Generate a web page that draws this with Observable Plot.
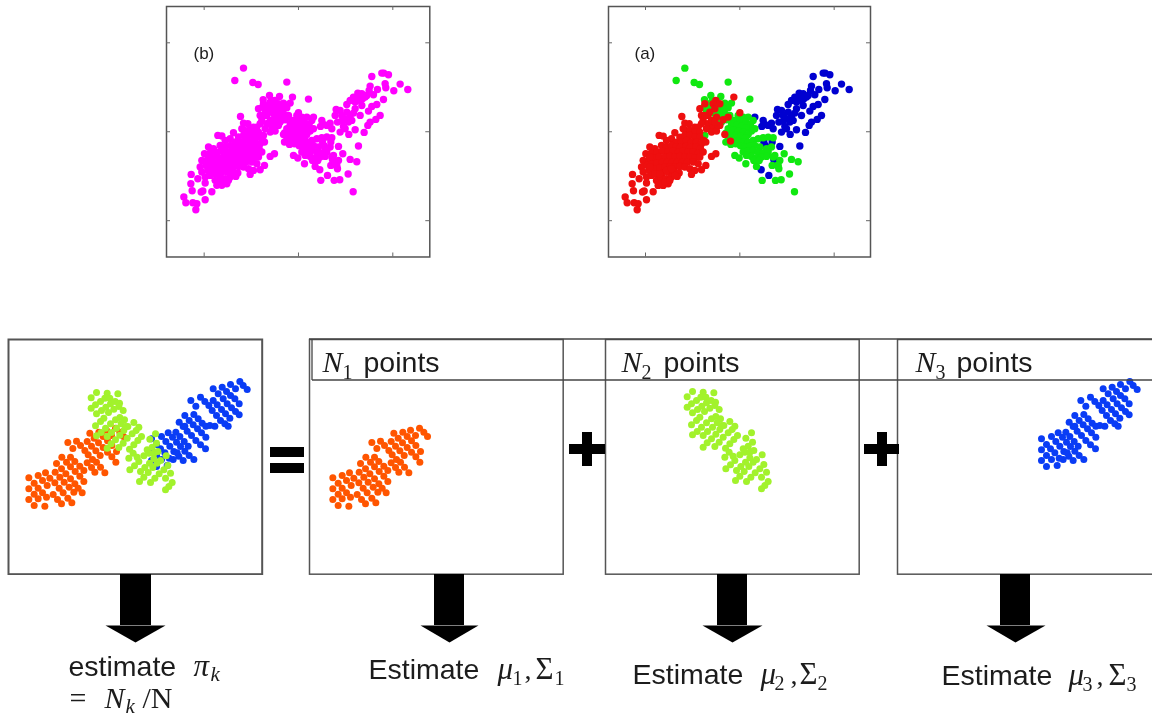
<!DOCTYPE html>
<html><head><meta charset="utf-8">
<script src="https://cdn.jsdelivr.net/npm/d3@7"></script>
<script src="https://cdn.jsdelivr.net/npm/@observablehq/plot@0.6"></script>
<style>html,body{margin:0;padding:0;background:#fff;overflow:hidden}#page{position:relative;width:1152px;height:717px;overflow:hidden;background:#fff}#page svg{position:absolute;max-width:none;filter:blur(0.45px)}</style>
</head><body><div id="page"></div>
<script>
// Upper scatter: unlabelled axes, values read in reading units of the picture
const scatterTicksX=[137,420,703], scatterTicksY=[127,394,661];
const scatterGreen=[[255,203],[229,240],[283,246],[299,252],[385,245],[450,296],[584,574],[487,540],[527,540],[544,538],[569,521],[575,477],[595,484],[553,460],[537,505],[533,495],[517,495],[470,498],[438,490],[405,465],[418,473],
[333,285],[363,288],[314,298],[312,320],[330,320],[320,330],[352,318],[375,308],[395,308],[385,322],[345,340],[360,345],[375,340],[390,345],[400,360],[350,360],[365,365],[380,358],[315,405],[340,300],[355,330],[370,325],[335,305],
[415,345],[430,350],[445,350],[460,360],[405,360],[420,362],[438,365],[452,372],[465,385],[395,372],[410,375],[425,378],[440,382],[455,392],[385,385],[400,388],[415,392],[430,395],[445,402],[378,398],[392,402],[408,405],[422,408],[438,412],[385,418],[400,420],[415,422],[430,425],[378,425],[393,432],[408,430],[422,436],
[445,425],[460,420],[475,415],[490,412],[505,410],[520,412],[435,440],[450,438],[465,435],[480,440],[500,445],[515,440],[430,455],[445,452],[460,450],[475,455],[490,458],[505,455],[440,465],[455,468],[470,472],[485,470],[500,468],[462,480],[478,480],[525,465],[540,480],[520,470],[535,495]];
const scatterBlue=[[640,228],[670,218],[676,218],[690,223],[725,251],[748,267],[706,271],[682,262],[680,250],[657,267],[635,257],[632,270],[610,280],[598,278],[585,290],[575,300],[565,312],[620,290],[605,300],[590,305],[610,315],[625,285],[645,283],[675,297],[655,312],[640,318],[630,332],[605,345],[665,345],[652,357],[635,365],[628,375],[617,396],[600,437],[590,388],[571,402],[580,360],[565,335],[545,330],[533,327],[550,345],[537,365],[555,378],[520,385],[505,375],[490,360],[486,378],[545,395],[560,385],[585,338],[570,365],[550,362],[465,350],[495,372],[515,368],[540,438],[517,425],[492,425],[436,418],[497,436],[522,478],[484,508],[507,525],[600,290],[612,295],[590,325],[575,345],[560,355],[530,345]];
const scatterRed=[[348,300],[402,290],[360,310],[340,310],[300,325],[305,345],[325,345],[345,325],[420,337],[310,360],[325,370],[340,380],[360,375],[320,385],[335,395],[350,392],[375,402],[392,422],[305,370],[370,358],[385,350],[315,310],[330,335],[350,350],[315,345],[335,360],[355,375],[345,365],
[246,348],[255,368],[268,370],[255,388],[250,385],[270,390],[285,380],[295,380],[285,395],[300,395],[178,405],[190,407],[225,397],[240,410],[255,405],[270,405],[285,410],[300,410],[312,420],[215,415],[200,420],[230,425],[245,425],[260,420],[275,425],[290,425],[305,430],[318,425],
[150,440],[165,445],[185,435],[200,440],[215,435],[228,440],[242,440],[258,438],[272,440],[288,440],[302,445],
[138,460],[155,458],[172,455],[188,452],[205,455],[220,452],[236,455],[250,452],[265,455],[280,455],[296,458],[310,455],
[130,480],[147,478],[162,472],[178,470],[195,470],[210,468],[225,470],[240,468],[255,470],[270,470],[285,472],[300,470],[335,468],[348,460],
[125,500],[143,495],[158,490],[172,488],[188,485],[203,485],[218,485],[233,485],[248,485],[263,485],[280,485],[295,490],
[130,515],[148,510],[165,505],[180,502],[195,500],[210,500],[225,500],[240,498],[255,500],[270,505],[285,510],[318,495],[305,508],
[118,535],[140,530],[155,525],[172,520],[188,518],[205,515],[222,515],[238,518],[275,522],
[140,548],[170,540],[185,535],[200,535],[215,530],[232,528],[98,522],[97,550],
[175,555],[190,555],[205,550],[101,571],[128,575],[133,572],[160,574],[76,590],[82,607],[103,607],[115,610],[112,628],[140,598],
[150,500],[165,520],[185,550],[195,545],[210,540],[225,525],[180,520],[200,510],[215,505],[150,470]];

// Lower panels: cluster points, with each list's own reading origin
const orangeOrigin=[27,12], limeOrigin=[17,12], royalOrigin=[113,12];
const orangePts=[[357,278],[370,290],[381,303],[330,284],[345,300],[307,290],[320,303],[333,316],[346,330],[360,348],[280,293],[293,308],[306,322],[320,336],[333,350],[346,364],[358,380],[272,318],[285,332],[298,346],[311,360],[214,321],[240,317],[252,330],[265,345],[229,339],[275,358],[288,372],[300,380],[312,395],[325,412],[272,382],[285,396],[295,410],[196,365],[210,380],[222,394],[236,408],[250,422],[262,438],[222,365],[235,378],[250,392],[262,405],[180,384],[195,400],[208,415],[222,430],[235,445],[176,410],[190,425],[203,440],[218,455],[232,470],[257,472],[245,458],[147,412],[160,428],[175,442],[188,458],[200,472],[214,488],[226,502],[125,420],[138,435],[152,450],[97,427],[97,460],[97,492],[113,443],[125,458],[138,472],[150,485],[113,476],[125,490],[113,510],[145,512],[170,477],[183,492],[195,505]];
const limePts=[[278,168],[310,170],[342,172],[262,184],[262,215],[275,205],[290,195],[303,185],[318,185],[278,232],[293,222],[306,212],[320,202],[334,195],[347,200],[314,228],[330,218],[345,210],[358,222],[275,268],[290,255],[300,245],[278,298],[292,288],[305,275],[320,262],[335,250],[348,243],[362,250],[310,335],[322,322],[335,310],[348,296],[360,282],[372,270],[390,258],[310,300],[323,288],[338,275],[352,262],[365,270],[345,333],[358,320],[370,305],[385,292],[397,282],[405,272],[377,338],[390,325],[402,312],[413,300],[455,292],[438,308],[430,340],[445,332],[458,320],[375,365],[388,350],[400,362],[378,400],[392,388],[405,375],[420,358],[435,350],[450,350],[462,345],[407,435],[420,422],[433,408],[447,393],[460,380],[470,372],[487,358],[440,438],[453,425],[466,412],[480,400],[492,387],[410,405],[423,393],[437,380],[450,367],[485,425],[500,410],[485,460],[495,450],[505,438]];
const royalPts=[[545,310],[545,343],[545,375],[560,393],[592,390],[560,327],[560,360],[595,292],[608,305],[620,320],[632,333],[645,347],[658,360],[672,372],[575,303],[588,318],[600,332],[612,348],[627,362],[640,375],[572,340],[585,352],[598,368],[575,372],[622,352],[610,372],[628,260],[640,273],[652,287],[665,300],[678,315],[692,328],[707,340],[645,240],[658,255],[670,268],[683,280],[695,292],[708,305],[618,290],[630,303],[643,318],[655,332],[672,237],[685,250],[697,263],[708,272],[645,272],[663,195],[692,185],[705,198],[717,210],[678,212],[730,160],[757,155],[770,168],[782,180],[795,190],[808,205],[745,175],[760,190],[772,205],[785,217],[797,228],[808,238],[730,195],[742,208],[755,222],[767,235],[780,248],[727,225],[740,240],[752,255],[765,265],[775,272],[735,272],[720,270],[782,147],[797,160],[810,138],[820,150],[832,162]];

// Page furniture, in page units
const blackBars=[[270,304,447,457],[270,304,463,473],[569,605,444,454],[582,592,432,466],[864,899,444,454],[877,887,432,466],[120,151,574,625],[434,464,574,625],[717,747,574,625],[1000,1030,574,625]];
const arrowHeads=[[105,135,165],[420,449,478],[702,732,762],[986,1015,1045]];
const arrowBase=625, arrowTip=642;
const headerRules=[[309,1152,339],[312,1152,380]];
const sansLabels=[["(b)",193,58,17],["(a)",634,58,17],["points",363,371,28.5],["points",663,371,28.5],["points",956,371,28.5],["estimate",68,675,28.5],["Estimate",368,678,28.5],["Estimate",632,683,28.5],["Estimate",941,684,28.5]];
const mathItalic=[["N",322,371,30],["N",621,371,30],["N",915,371,30],["π",193,675,31],["k",210,680,21],["N",104,707,30],["k",125,712,21],["μ",497,678,31],["μ",760,683,31],["μ",1068,684,31]];
const mathUpright=[["1",342,378,20],["2",641,378,20],["3",935,378,20],["=",69,707,30],["/N",142,707,30],["1",512,684,20],[",",524,678,28],["Σ",535,678,31],["1",554,684,20],["2",774,689,20],[",",790,683,28],["Σ",799,683,31],["2",817,689,20],["3",1082,690,20],[",",1096,684,28],["Σ",1108,684,31],["3",1126,690,20]];

const page=document.getElementById("page");
function add(svg,left,top){svg.style.left=left+"px";svg.style.top=top+"px";page.appendChild(svg);}
function panel(left,top,w,h,xd,yd,marks,stroke,sw){
  add(Plot.plot({width:w+4,height:h+4,margin:2,x:{domain:xd,axis:null},y:{domain:yd,axis:null},
    marks:[Plot.frame({stroke,strokeWidth:sw}),...marks]}),left-2.5,top-2.5);
}
const X=d=>d[0],Y=d=>d[1];
function scatterMarks(xd,yd){
  const tk="#666",len=12;
  return [
    Plot.ruleX(scatterTicksX,{y1:yd[0],y2:yd[0]-len,stroke:tk}),
    Plot.ruleX(scatterTicksX,{y1:yd[1],y2:yd[1]+len,stroke:tk}),
    Plot.ruleY(scatterTicksY,{x1:xd[0],x2:xd[0]+len,stroke:tk}),
    Plot.ruleY(scatterTicksY,{x1:xd[1],x2:xd[1]-len,stroke:tk})
  ];
}
const rS=3.7;
// (b) all points magenta
{const xd=[24,814],yd=[770,18];
 panel(166.7,6.5,263.3,250.5,xd,yd,[...scatterMarks(xd,yd),
  Plot.dot([...scatterGreen,...scatterBlue,...scatterRed],{x:X,y:Y,r:rS,fill:"#ff00ff"})],"#555",1.5);}
// (a) coloured by component
{const xd=[26,812],yd=[770,18];
 panel(608.7,6.5,262,250.5,xd,yd,[...scatterMarks(xd,yd),
  Plot.dot(scatterBlue,{x:X,y:Y,r:rS,fill:"#0000d0"}),
  Plot.dot(scatterGreen,{x:X,y:Y,r:rS,fill:"#10e810"}),
  Plot.dot(scatterRed,{x:X,y:Y,r:rS,fill:"#ee0f0f"})],"#555",1.5);}

const rel=o=>({x:d=>d[0]-o[0],y:d=>d[1]-o[1],r:3.5});
const orange="#ff5500",lime="#a2f22c",royal="#0a3cf5";
const xd=[0,761],yd=[704,0];
panel(8.7,339,253.7,234.7,xd,yd,[
  Plot.dot(orangePts,{...rel(orangeOrigin),fill:orange,dx:-3}),
  Plot.dot(royalPts,{...rel(royalOrigin),fill:royal,dx:-1}),
  Plot.dot(limePts,{...rel(limeOrigin),fill:lime,dx:1,dy:1})],"#555",2);
panel(309,339,253.7,234.7,xd,yd,[Plot.dot(orangePts,{...rel(orangeOrigin),fill:orange})],"#555",1.5);
panel(605.3,339,253.7,234.7,xd,yd,[Plot.dot(limePts,{...rel(limeOrigin),fill:lime})],"#555",1.5);
panel(897.7,339,267,234.7,[0,801],yd,[Plot.dot(royalPts,{...rel(royalOrigin),fill:royal})],"#555",1.5);

// overlay: rules, bars, arrows and labels
const tri=arrowHeads.flatMap((a,i)=>[[a[0],arrowBase,i],[a[1],arrowTip,i],[a[2],arrowBase,i]]);
const textOpts=(fam,style)=>({x:d=>d[1],y:d=>d[2],text:d=>d[0],fontSize:d=>d[3],fontFamily:fam,fontStyle:style,textAnchor:"start",lineAnchor:"bottom",fill:"#1c1c1c"});
add(Plot.plot({width:1152,height:717,margin:0,style:{background:"transparent"},x:{domain:[0,1152],axis:null},y:{domain:[717,0],axis:null},
 marks:[
  Plot.ruleY(headerRules,{x1:d=>d[0],x2:d=>d[1],y:d=>d[2],stroke:"#444",strokeWidth:1.3,dy:-0.5}),
  Plot.ruleX([312],{y1:339,y2:380,stroke:"#444",strokeWidth:1.3,dx:-0.5}),
  Plot.rect(blackBars,{x1:d=>d[0],x2:d=>d[1],y1:d=>d[2],y2:d=>d[3],fill:"black"}),
  Plot.line(tri,{x:d=>d[0],y:d=>d[1],z:d=>d[2],fill:"black",stroke:"none"}),
  Plot.text(sansLabels,textOpts("Liberation Sans","normal")),
  Plot.text(mathItalic,textOpts("Liberation Serif","italic")),
  Plot.text(mathUpright,textOpts("Liberation Serif","normal"))
 ]}),0,0);
</script></body></html>
